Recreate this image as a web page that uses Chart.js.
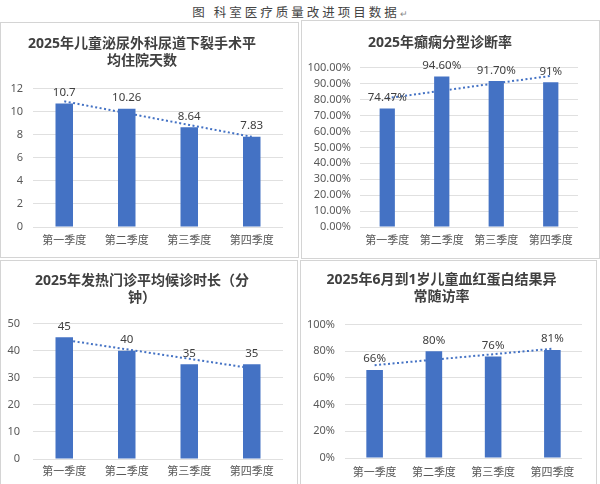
<!DOCTYPE html>
<html>
<head>
<meta charset="utf-8">
<script src="https://cdn.jsdelivr.net/npm/chart.js@4.4.1/dist/chart.umd.min.js"></script>
<style>
  html, body { margin: 0; padding: 0; background: #fff; }
  body { width: 600px; height: 484px; position: relative; overflow: hidden; }
  .caption {
    position: absolute; left: 0; top: 3px; width: 600px; text-align: center;
    font-family: 'Noto Sans CJK SC', sans-serif; font-size: 12.5px; letter-spacing: 3px;
    color: #444; line-height: 18px;
  }
  .caption span { font-size: 9px; color: #888; letter-spacing: 0; }
  .panel { position: absolute; border: 1px solid #d4d4d4; background: #fff; box-sizing: border-box; }
  .panel canvas { display: block; }
</style>
</head>
<body>
<div class="caption">图 科室医疗质量改进项目数据<span>↵</span></div>
<div class="panel" style="left:0px;top:22px;width:299px;height:236px;"><canvas id="c1"></canvas></div>
<div class="panel" style="left:301px;top:20px;width:299px;height:239px;"><canvas id="c2"></canvas></div>
<div class="panel" style="left:0px;top:260px;width:298px;height:230px;"><canvas id="c3"></canvas></div>
<div class="panel" style="left:300px;top:260px;width:297px;height:230px;"><canvas id="c4"></canvas></div>
<script>
const quarters = ['第一季度', '第二季度', '第三季度', '第四季度'];

// 尿道下裂手术平均住院天数
const stayDays = [10.7, 10.26, 8.64, 7.83];
const stayTrend = [10.9, 9.87, 8.85, 7.82];

// 癫痫分型诊断率 (%)
const epilepsyRate = [74.47, 94.6, 91.7, 91];
const epilepsyTrend = [80.9, 85.6, 90.3, 94.9];
const epilepsyText = ['74.47%', '94.60%', '91.70%', '91%'];

// 发热门诊平均候诊时长 (分钟)
const feverWait = [45, 40, 35, 35];
const feverTrend = [44, 40.5, 37, 33.5];

// 血红蛋白结果异常随访率 (%)
const followRate = [66, 80, 76, 81];
const followTrend = [69.6, 73.7, 77.8, 81.9];

const BLUE = '#4472C4';
Chart.defaults.font.family = "'Noto Sans', 'Noto Sans CJK SC', sans-serif";
Chart.defaults.color = '#595959';

const barLabels = {
  id: 'barLabels',
  afterDatasetsDraw(chart, args, opts) {
    const ctx = chart.ctx;
    const meta = chart.getDatasetMeta(0);
    ctx.save();
    ctx.font = "11.5px 'Noto Sans', 'Noto Sans CJK SC', sans-serif";
    ctx.fillStyle = '#404040';
    ctx.textAlign = 'center';
    ctx.textBaseline = 'bottom';
    meta.data.forEach((bar, i) => {
      ctx.fillText(opts.format(chart.data.datasets[0].data[i], i), bar.x, bar.y - 5);
    });
    ctx.restore();
  }
};

function makeChart(id, cfg) {
  new Chart(document.getElementById(id), {
    type: 'bar',
    data: {
      labels: quarters,
      datasets: [{
        type: 'bar',
        data: cfg.values,
        backgroundColor: BLUE,
        barPercentage: 0.28,
        categoryPercentage: 1,
        order: 1
      }, {
        type: 'line',
        data: cfg.trend,
        borderColor: BLUE,
        borderWidth: 2,
        borderDash: [2, 2.5],
        pointRadius: 0,
        fill: false,
        order: 2
      }]
    },
    options: {
      responsive: true,
      maintainAspectRatio: false,
      animation: false,
      layout: { padding: { left: 0, right: cfg.rightPad, top: 0, bottom: 0 } },
      plugins: {
        legend: { display: false },
        tooltip: { enabled: false },
        title: {
          display: true,
          text: cfg.title,
          color: '#404040',
          font: { size: 14, weight: 'bold' },
          lineHeight: 1.28,
          padding: { top: cfg.titleTop, bottom: cfg.titleBottom }
        },
        barLabels: { format: cfg.label }
      },
      scales: {
        x: {
          grid: { display: false, drawTicks: false, tickLength: 0 },
          border: { display: false },
          ticks: { color: '#595959', font: { size: 11 }, padding: cfg.xPad },
          afterFit(scale) { scale.height = cfg.xHeight; }
        },
        y: {
          min: cfg.min,
          max: cfg.max,
          grid: { color: '#e0e0e0', drawTicks: false },
          border: { display: false },
          ticks: {
            stepSize: cfg.step,
            autoSkip: false,
            color: '#595959',
            font: { size: 11 },
            padding: cfg.yPad,
            callback: cfg.tick
          },
          afterFit(scale) { scale.width = cfg.yWidth; }
        }
      }
    },
    plugins: [barLabels]
  });
}

makeChart('c1', {
  title: ['2025年儿童泌尿外科尿道下裂手术平', '均住院天数'],
  values: stayDays, trend: stayTrend,
  min: 0, max: 12, step: 2,
  tick: v => v,
  label: v => String(v),
  yWidth: 32, yPad: 10, rightPad: 15,
  titleTop: 13, titleBottom: 19, xHeight: 30, xPad: 7
});

makeChart('c2', {
  title: ['2025年癫痫分型诊断率'],
  values: epilepsyRate, trend: epilepsyTrend,
  min: 0, max: 100, step: 10,
  tick: v => v.toFixed(2) + '%',
  label: (v, i) => epilepsyText[i],
  yWidth: 58, yPad: 9, rightPad: 21,
  titleTop: 14, titleBottom: 16, xHeight: 31, xPad: 7
});

makeChart('c3', {
  title: ['2025年发热门诊平均候诊时长（分', '钟）'],
  values: feverWait, trend: feverTrend,
  min: 0, max: 50, step: 10,
  tick: v => v,
  label: v => String(v),
  yWidth: 32, yPad: 13, rightPad: 14,
  titleTop: 12, titleBottom: 17, xHeight: 30, xPad: 6
});

makeChart('c4', {
  title: ['2025年6月到1岁儿童血红蛋白结果异', '常随访率'],
  values: followRate, trend: followTrend,
  min: 0, max: 100, step: 20,
  tick: v => v + '%',
  label: v => v + '%',
  yWidth: 44, yPad: 10, rightPad: 14,
  titleTop: 11, titleBottom: 19, xHeight: 31, xPad: 8
});
</script>
</body>
</html>
